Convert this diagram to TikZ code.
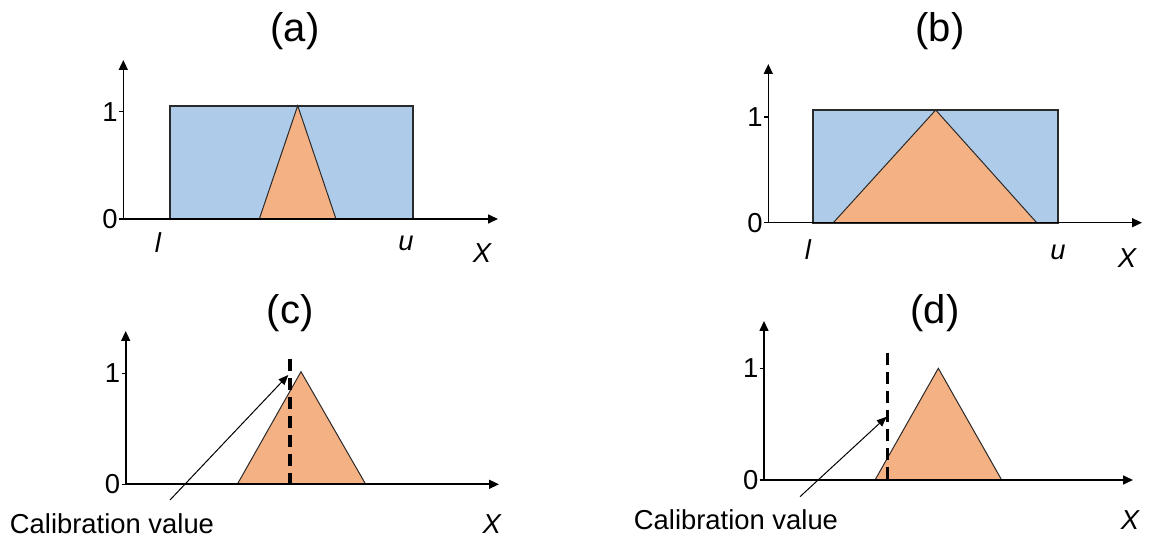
\documentclass[tikz,border=0pt]{standalone}
\usepackage{fontspec}
\setmainfont{Liberation Sans}
\usetikzlibrary{arrows.meta}
\definecolor{boxblue}{HTML}{AECCE9}
\definecolor{trior}{HTML}{F4B183}
\definecolor{edgegray}{HTML}{2A2A2A}
\tikzset{
  axis/.style={line width=0.8pt, -{Triangle[length=5pt,width=4.5pt]}},
  tickline/.style={line width=0.7pt},
  rectfill/.style={fill=boxblue, draw=edgegray, line width=0.9pt},
  trifill/.style={fill=trior, draw=edgegray, line width=0.5pt},
  calib/.style={line width=1.6pt, dash pattern=on 6pt off 3.5pt},
  pointer/.style={line width=0.5pt, -{Triangle[length=5pt,width=4pt]}},
  title/.style={font=\fontsize{20}{24}\selectfont, inner sep=0pt},
  lbl/.style={font=\fontsize{13.7}{16}\selectfont, inner sep=0pt},
  ilbl/.style={font=\fontsize{13.7}{16}\selectfont\itshape, inner sep=0pt},
}
\begin{document}
\begin{tikzpicture}[x=0.5pt,y=-0.5pt]
\useasboundingbox (0,0) rectangle (1152,539);
% ---------- panel (a)
\node[title] (ta) at (295,31) {(a)};
\path[rectfill] (169.7,219) rectangle (413.3,105.7);
\path[trifill] (259.3,219) -- (297.7,105.7) -- (336,219) -- cycle;
\coordinate (ao) at (123.3,219);
\coordinate (ay) at (123.3,60);
\coordinate (ax) at (498,219);
\draw[axis] (ao) -- (ay);
\draw[axis] (ao) -- (ax);
\draw[tickline] (119,111.7) -- (123.3,111.7);
\draw[tickline] (119,219) -- (123.3,219);
\node[lbl, anchor=east] (a1) at (118,111.7) {1};
\node[lbl, anchor=east] (a0) at (118,219) {0};
\node[ilbl] (al) at (158,243) {l};
\node[ilbl] (au) at (406,243) {u};
\node[ilbl] (aX) at (482,253) {X};
% ---------- panel (b)
\node[title] (tb) at (940,31) {(b)};
\path[rectfill] (812.7,222.7) rectangle (1057.7,110);
\path[trifill] (833.3,222.7) -- (935.7,110) -- (1036.7,222.7) -- cycle;
\coordinate (bo) at (768.3,222.7);
\coordinate (by) at (768.3,64);
\coordinate (bx) at (1142,222.7);
\draw[axis] (bo) -- (by);
\draw[axis] (bo) -- (bx);
\draw[tickline] (764,117) -- (768.3,117);
\draw[tickline] (764,222.7) -- (768.3,222.7);
\node[lbl, anchor=east] (b1) at (763,117) {1};
\node[lbl, anchor=east] (b0) at (763,222.7) {0};
\node[ilbl] (bl) at (808,250) {l};
\node[ilbl] (bu) at (1058,252) {u};
\node[ilbl] (bX) at (1127,258) {X};
% ---------- panel (c)
\node[title] (tc) at (290,313) {(c)};
\path[trifill] (237.3,484.3) -- (301,371.7) -- (365.7,484.3) -- cycle;
\coordinate (co) at (125.7,484.3);
\coordinate (cy) at (125.7,331);
\coordinate (cx) at (499,484.3);
\draw[axis] (co) -- (cy);
\draw[axis] (co) -- (cx);
\draw[tickline] (121.5,373.3) -- (125.7,373.3);
\draw[tickline] (121.5,484.3) -- (125.7,484.3);
\node[lbl, anchor=east] (c1) at (120.5,373.3) {1};
\node[lbl, anchor=east] (c0) at (120.5,484.3) {0};
\coordinate (cdtop) at (290,359);
\coordinate (cdbot) at (290,484.3);
\draw[calib] (cdtop) -- (cdbot);
\node[lbl] (ccal) at (112,524) {Calibration value};
\coordinate (cps) at (170,500);
\coordinate (cpe) at (288.3,375);
\draw[pointer] (cps) -- (cpe);
\node[ilbl] (cX) at (491.7,524) {X};
% ---------- panel (d)
\node[title] (td) at (935,313) {(d)};
\path[trifill] (875,480) -- (938.3,368.3) -- (1001.7,480) -- cycle;
\coordinate (do) at (764,480);
\coordinate (dy) at (764,321);
\coordinate (dx) at (1133,480);
\draw[axis] (do) -- (dy);
\draw[axis] (do) -- (dx);
\draw[tickline] (759.7,368.3) -- (764,368.3);
\draw[tickline] (759.7,480) -- (764,480);
\node[lbl, anchor=east] (d1) at (758.7,368.3) {1};
\node[lbl, anchor=east] (d0) at (758.7,480) {0};
\coordinate (ddtop) at (887.7,353);
\coordinate (ddbot) at (887.7,480);
\draw[calib] (ddtop) -- (ddbot);
\node[lbl] (dcal) at (736,520) {Calibration value};
\coordinate (dps) at (800,496.7);
\coordinate (dpe) at (886.7,416.7);
\draw[pointer] (dps) -- (dpe);
\node[ilbl] (dX) at (1130,520) {X};
\end{tikzpicture}
\end{document}
